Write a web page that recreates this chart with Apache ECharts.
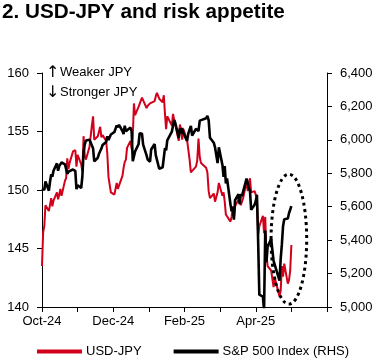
<!DOCTYPE html>
<html><head><meta charset="utf-8">
<script src="https://cdn.jsdelivr.net/npm/echarts@6/dist/echarts.min.js"></script>
<style>html,body{margin:0;padding:0;background:#fff}#c{width:378px;height:362px}</style>
</head><body><div id="c"></div>
<script>
const dates = [
'2024-10-01','2024-10-02','2024-10-03','2024-10-04','2024-10-07','2024-10-08','2024-10-09','2024-10-10','2024-10-11','2024-10-14','2024-10-15','2024-10-16','2024-10-17','2024-10-18','2024-10-21','2024-10-22','2024-10-23','2024-10-24','2024-10-25','2024-10-28','2024-10-29','2024-10-30','2024-10-31',
'2024-11-01','2024-11-04','2024-11-05','2024-11-06','2024-11-07','2024-11-08','2024-11-11','2024-11-12','2024-11-13','2024-11-14','2024-11-15','2024-11-18','2024-11-19','2024-11-20','2024-11-21','2024-11-22','2024-11-25','2024-11-26','2024-11-27','2024-11-29',
'2024-12-02','2024-12-03','2024-12-04','2024-12-05','2024-12-06','2024-12-09','2024-12-10','2024-12-11','2024-12-12','2024-12-13','2024-12-16','2024-12-17','2024-12-18','2024-12-19','2024-12-20','2024-12-23','2024-12-24','2024-12-26','2024-12-27','2024-12-30','2024-12-31',
'2025-01-02','2025-01-03','2025-01-06','2025-01-07','2025-01-08','2025-01-10','2025-01-13','2025-01-14','2025-01-15','2025-01-16','2025-01-17','2025-01-21','2025-01-22','2025-01-23','2025-01-24','2025-01-27','2025-01-28','2025-01-29','2025-01-30','2025-01-31',
'2025-02-03','2025-02-04','2025-02-05','2025-02-06','2025-02-07','2025-02-10','2025-02-11','2025-02-12','2025-02-13','2025-02-14','2025-02-18','2025-02-19','2025-02-20','2025-02-21','2025-02-24','2025-02-25','2025-02-26','2025-02-27','2025-02-28',
'2025-03-03','2025-03-04','2025-03-05','2025-03-06','2025-03-07','2025-03-10','2025-03-11','2025-03-12','2025-03-13','2025-03-14','2025-03-17','2025-03-18','2025-03-19','2025-03-20','2025-03-21','2025-03-24','2025-03-25','2025-03-26','2025-03-27','2025-03-28','2025-03-31',
'2025-04-01','2025-04-02','2025-04-03','2025-04-04','2025-04-07','2025-04-08','2025-04-09','2025-04-10','2025-04-11','2025-04-14','2025-04-15','2025-04-16','2025-04-17','2025-04-21','2025-04-22','2025-04-23','2025-04-24','2025-04-25','2025-04-28','2025-04-29','2025-04-30',
'2025-05-01'
];
const usdJpy = [
143.5,146.4,146.9,148.7,148.2,148.2,149.3,148.6,149.1,149.8,149.2,149.6,150.1,149.5,150.8,151.0,152.7,151.8,152.3,153.3,153.4,153.4,152.0,
153.0,152.2,151.6,154.6,152.9,152.6,153.7,154.6,155.5,156.3,154.3,154.6,154.6,155.4,154.5,154.7,154.2,153.1,151.1,149.8,
149.6,149.6,150.6,150.1,150.0,151.2,151.9,152.4,152.6,153.6,154.2,153.5,154.6,157.4,156.4,157.1,157.2,157.9,157.9,157.0,157.2,
157.4,157.3,157.6,158.0,158.3,157.8,157.5,158.1,156.5,155.2,156.3,155.5,156.5,156.0,156.0,154.2,155.6,155.2,154.3,155.2,
154.3,154.3,152.6,151.5,151.4,152.0,152.5,154.4,152.8,152.3,151.9,151.5,149.9,149.3,149.7,149.0,149.1,149.8,150.6,
149.5,149.8,149.0,147.9,148.0,147.3,147.7,148.6,147.7,148.6,149.2,149.3,148.7,148.7,149.3,150.7,149.9,150.6,151.0,149.8,149.9,
149.6,149.3,146.1,146.9,147.8,146.3,147.7,144.4,143.5,143.1,143.2,141.7,142.5,140.9,141.4,143.5,142.6,143.7,142.0,142.3,143.1,
145.3
];
const spx = [
5709,5710,5700,5751,5696,5751,5793,5780,5815,5859,5815,5843,5841,5865,5853,5851,5797,5809,5808,5823,5832,5813,5705,
5729,5712,5782,5929,5973,5996,6001,5984,5985,5949,5871,5893,5917,5917,5948,5969,5987,6021,5999,6032,
6047,6050,6087,6075,6090,6053,6034,6085,6051,6051,6074,6050,5872,5867,5931,5974,6040,6037,5971,5907,5882,
5869,5942,5975,5909,5918,5827,5836,5843,5950,5937,5997,6049,6086,6119,6101,6012,6068,6039,6071,6041,
5994,6038,6061,6083,6026,6066,6068,6052,6115,6115,6129,6144,6117,6013,5983,5955,5956,5861,5955,
5850,5779,5843,5739,5770,5615,5572,5599,5522,5639,5675,5615,5675,5663,5668,5768,5777,5712,5693,5581,5612,
5633,5671,5397,5074,5062,4982,5457,5268,5363,5406,5397,5276,5283,5158,5288,5376,5485,5525,5529,5561,5569,
5604
];
const xTickLabels = ['Oct-24','','Dec-24','','Feb-25','','Apr-25','',''];
const seriesNames = ['USD-JPY','S&P 500 Index (RHS)'];
const leftTicks = [140,160,5];
const rightTicks = [5000,6400,200];

const FONT = '"Liberation Sans", Arial, sans-serif';
function monthPos(s){
  const [y,m,d] = s.split('-').map(Number);
  const idx = (y-2024)*12 + (m-10);
  const dim = new Date(y, m, 0).getDate();
  return idx + (d-1)/dim;
}
const xs = dates.map(monthPos);
const jpyData = xs.map((x,i)=>[x, usdJpy[i]]);
const spxData = xs.map((x,i)=>[x, spx[i]]);

const chart = echarts.init(document.getElementById('c'), null, {renderer:'canvas'});
const axisCommon = {
  axisLine:{show:true, lineStyle:{color:'#000', width:1}},
  axisTick:{show:true, inside:false, length:5, lineStyle:{color:'#000'}},
  splitLine:{show:false},
  axisLabel:{color:'#000', fontSize:13, fontFamily:FONT}
};
chart.setOption({
  animation:false,
  textStyle:{fontFamily:FONT},
  title:{text:'2. USD-JPY and risk appetite', left:2, top:2, padding:0,
    textStyle:{fontSize:20.7, fontWeight:'bold', color:'#000', fontFamily:FONT}},
  grid:{left:42, right:51, top:73, bottom:55, containLabel:false},
  legend:{left:37, top:345, padding:0, itemWidth:45, itemHeight:4, itemGap:32, icon:'rect',
    textStyle:{fontSize:13, color:'#000', fontFamily:FONT, padding:[0,0,0,-1]},
    data:seriesNames},
  xAxis:{type:'value', min:0, max:8, interval:1, ...axisCommon,
    axisLabel:{...axisCommon.axisLabel, margin:8, formatter:(v)=>xTickLabels[Math.round(v)]||''}},
  yAxis:[
    {type:'value', min:leftTicks[0], max:leftTicks[1], interval:leftTicks[2], position:'left', ...axisCommon,
      axisLabel:{...axisCommon.axisLabel, margin:13}},
    {type:'value', min:rightTicks[0], max:rightTicks[1], interval:rightTicks[2], position:'right', ...axisCommon,
      axisLabel:{...axisCommon.axisLabel, margin:13, formatter:(v)=>v.toLocaleString('en-US')}}
  ],
  series:[
    {name:seriesNames[0], type:'line', yAxisIndex:0, data:jpyData, showSymbol:false, symbol:'none',
      lineStyle:{color:'#d2001a', width:2}, itemStyle:{color:'#d2001a'}},
    {name:seriesNames[1], type:'line', yAxisIndex:1, data:spxData, showSymbol:false, symbol:'none',
      lineStyle:{color:'#000', width:2.6}, itemStyle:{color:'#000'}}
  ]
});
// annotation ellipse, placed in data space
const ellCenter = [6.93, 145.8];
const ellHalf = [0.5, 5.55];
const c = chart.convertToPixel({xAxisIndex:0, yAxisIndex:0}, ellCenter);
const e = chart.convertToPixel({xAxisIndex:0, yAxisIndex:0}, [ellCenter[0]+ellHalf[0], ellCenter[1]+ellHalf[1]]);
chart.setOption({
  graphic:[
    {type:'ellipse', shape:{cx:c[0], cy:c[1], rx:Math.abs(e[0]-c[0]), ry:Math.abs(c[1]-e[1])},
      style:{fill:'none', stroke:'#000', lineWidth:3, lineDash:[3,3.5]}, z:10},
    {type:'text', left:46, top:65, style:{text:'↑', fontSize:16, fill:'#000', fontFamily:'"DejaVu Sans", sans-serif'}},
    {type:'text', left:60, top:66, style:{text:'Weaker JPY', fontSize:13, fill:'#000', fontFamily:FONT}},
    {type:'text', left:46, top:85, style:{text:'↓', fontSize:16, fill:'#000', fontFamily:'"DejaVu Sans", sans-serif'}},
    {type:'text', left:60, top:86, style:{text:'Stronger JPY', fontSize:13, fill:'#000', fontFamily:FONT}}
  ]
});
</script></body></html>
